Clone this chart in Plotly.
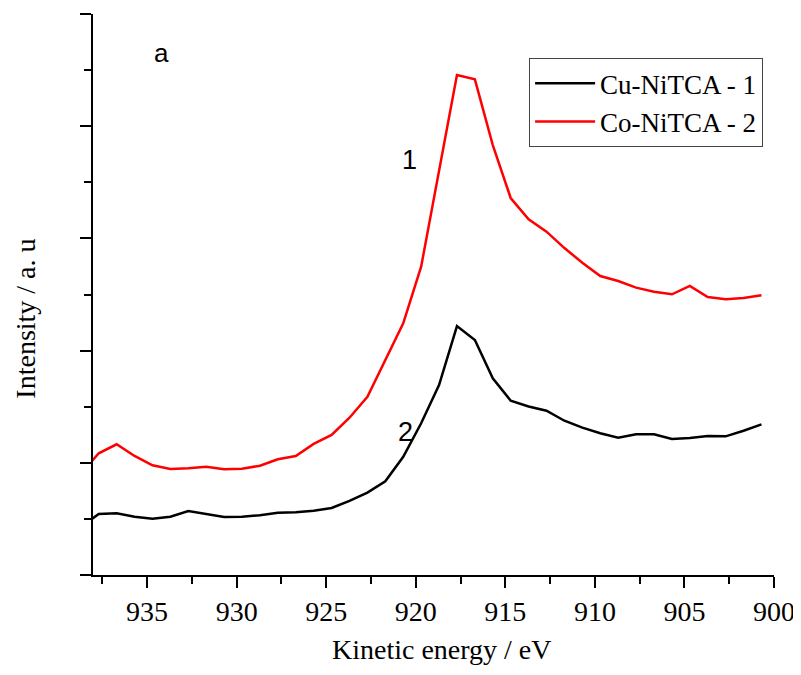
import plotly.graph_objects as go

# Kinetic energy (eV), 1 eV steps
energy = [938.7, 937.7, 936.7, 935.7, 934.7, 933.7, 932.7, 931.7, 930.7, 929.7,
          928.7, 927.7, 926.7, 925.7, 924.7, 923.7, 922.7, 921.7, 920.7, 919.7,
          918.7, 917.7, 916.7, 915.7, 914.7, 913.7, 912.7, 911.7, 910.7, 909.7,
          908.7, 907.7, 906.7, 905.7, 904.7, 903.7, 902.7, 901.7, 900.7]

cu_nitca_1 = [0.428, 0.544, 0.550, 0.520, 0.502, 0.520, 0.570, 0.541, 0.517, 0.520,
              0.532, 0.555, 0.559, 0.573, 0.597, 0.660, 0.734, 0.836, 1.054, 1.352,
              1.693, 2.219, 2.094, 1.753, 1.553, 1.502, 1.464, 1.375, 1.313, 1.263,
              1.224, 1.254, 1.254, 1.212, 1.221, 1.239, 1.236, 1.286, 1.343]

co_nitca_2 = [0.900, 1.085, 1.165, 1.061, 0.978, 0.945, 0.951, 0.965, 0.942, 0.947,
              0.974, 1.031, 1.061, 1.168, 1.248, 1.402, 1.589, 1.916, 2.243, 2.748,
              3.610, 4.456, 4.418, 3.832, 3.360, 3.170, 3.060, 2.914, 2.783, 2.665,
              2.620, 2.561, 2.525, 2.502, 2.576, 2.478, 2.457, 2.469, 2.493]

series_names = ["Cu-NiTCA - 1", "Co-NiTCA - 2"]
x_ticks = [935, 930, 925, 920, 915, 910, 905, 900]

serif = "Liberation Serif"
sans = "Liberation Sans"

fig = go.Figure()
fig.add_trace(go.Scatter(x=energy, y=cu_nitca_1, mode="lines", name=series_names[0],
                         line=dict(color="black", width=2.5)))
fig.add_trace(go.Scatter(x=energy, y=co_nitca_2, mode="lines", name=series_names[1],
                         line=dict(color="#ff0000", width=2.5)))

# page has an 8px body margin, so the figure is 8px smaller than the window
fig.update_layout(
    width=793, height=667,
    margin=dict(l=85, r=27, t=6, b=100),
    paper_bgcolor="white", plot_bgcolor="white",
    font=dict(family=serif, color="black"),
    showlegend=True,
    legend=dict(x=0.984, y=0.921, xanchor="right", yanchor="top",
                bordercolor="#444444", borderwidth=1, bgcolor="white",
                font=dict(family=serif, size=27, color="black"),
                tracegroupgap=0, itemwidth=60),
    xaxis=dict(range=[938.02, 900], tickvals=x_ticks, ticks="outside", ticklen=11,
               tickwidth=1.5, tickcolor="black", showline=True, linecolor="black",
               linewidth=1.5, showgrid=False, zeroline=False,
               tickfont=dict(family=serif, size=28, color="black"),
               minor=dict(dtick=2.5, tick0=900, ticks="outside", ticklen=7,
                          tickwidth=1.5, tickcolor="black", showgrid=False)),
    yaxis=dict(range=[0, 5], dtick=1, tick0=0, ticks="outside", ticklen=11,
               tickwidth=1.5, tickcolor="black", showline=True, linecolor="black",
               linewidth=1.5, showgrid=False, zeroline=False, showticklabels=False,
               minor=dict(dtick=0.5, tick0=0, ticks="outside", ticklen=7,
                          tickwidth=1.5, tickcolor="black", showgrid=False)),
    annotations=[
        dict(text="Kinetic energy / eV", xref="paper", yref="paper", x=0.513, y=-0.133,
             xanchor="center", yanchor="middle", showarrow=False,
             font=dict(family=serif, size=28, color="black")),
        dict(text="Intensity / a. u", xref="paper", yref="paper", x=-0.0994, y=0.4575,
             xanchor="center", yanchor="middle", textangle=-90, showarrow=False,
             font=dict(family=serif, size=28, color="black")),
        dict(text="a", x=934.2, y=4.65, xref="x", yref="y", showarrow=False,
             font=dict(family=sans, size=26, color="black")),
        dict(text="1", x=920.37, y=3.70, xref="x", yref="y", showarrow=False,
             font=dict(family=sans, size=27, color="black")),
        dict(text="2", x=920.59, y=1.277, xref="x", yref="y", showarrow=False,
             font=dict(family=sans, size=27, color="black")),
    ],
)

fig.write_html("out.html")
